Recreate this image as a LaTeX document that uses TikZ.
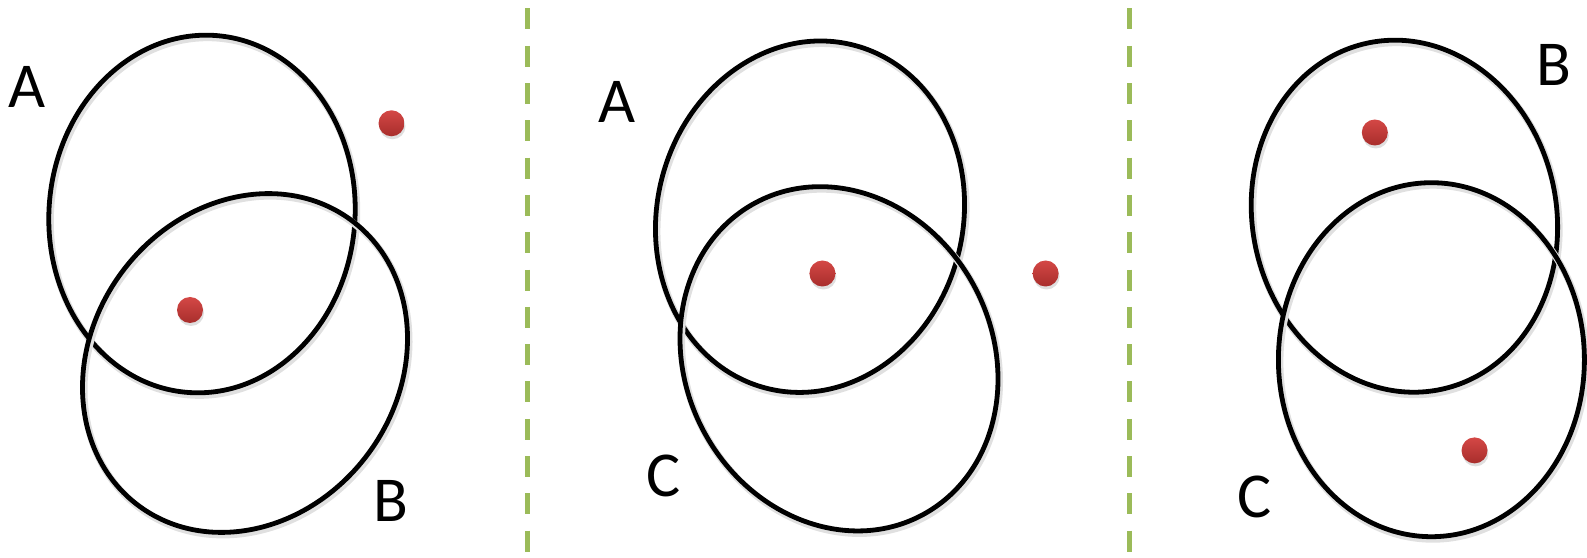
\documentclass[tikz,border=0pt]{standalone}
\usepackage{fontspec}
\setmainfont{Carlito}
\usetikzlibrary{shadows}

\definecolor{sepgreen}{RGB}{155,187,89}
\definecolor{dotlight}{RGB}{212,72,70}
\definecolor{dotdark}{RGB}{168,46,44}

\newcommand{\venring}[5]{
  \draw[black!12, line width=7pt, shift={(#1+1.5,#2-2.5)}, rotate=#5] (0,0) ellipse [x radius=#3pt, y radius=#4pt];
  \draw[black, line width=4.8pt, shift={(#1,#2)}, rotate=#5] (0,0) ellipse [x radius=#3pt, y radius=#4pt];
}

\begin{document}
\begin{tikzpicture}[x=1pt, y=1pt,
    setlabel/.style={inner sep=0pt, font=\fontsize{64}{64}\selectfont},
    dot/.style={circle, inner sep=0pt, minimum size=26pt, top color=dotlight, bottom color=dotdark,
      drop shadow={opacity=0.25, shadow xshift=1pt, shadow yshift=-3pt}},
    sepline/.style={sepgreen, line width=5pt, dash pattern=on 21pt off 16.3pt}]
    \useasboundingbox (0,0) rectangle (1587,557);

    % separators
    \coordinate (sepatop) at (527,548.5);
    \coordinate (sepabot) at (527,0);
    \coordinate (sepbtop) at (1129.5,548.5);
    \coordinate (sepbbot) at (1129.5,0);
    \draw[sepline] (sepatop) -- (sepabot);
    \draw[sepline] (sepbtop) -- (sepbbot);

    % left: A and B
    \venring{202}{343}{153}{179}{-5}
    \venring{245}{194}{178}{153}{53}
    \node[setlabel] (labAa) at (27,470) {A};
    \node[setlabel] (labBa) at (391,56) {B};
    \node[dot] (pta) at (391.5,433.7) {};
    \node[dot] (ptb) at (190,247) {};

    % middle: A and C
    \venring{810}{340.3}{153}{177}{-14}
    \venring{839}{198.2}{153.5}{177}{28}
    \node[setlabel] (labAb) at (617,455) {A};
    \node[setlabel] (labCb) at (664,81) {C};
    \node[dot] (ptc) at (822.4,283.5) {};
    \node[dot] (ptd) at (1045.6,283.5) {};

    % right: B and C
    \venring{1404.4}{340.8}{152}{177}{12}
    \venring{1431.4}{197.3}{153}{177}{0}
    \node[setlabel] (labBc) at (1554,492.5) {B};
    \node[setlabel] (labCc) at (1255,60.5) {C};
    \node[dot] (pte) at (1374.8,424.5) {};
    \node[dot] (ptf) at (1474.5,106.6) {};
\end{tikzpicture}
\end{document}
